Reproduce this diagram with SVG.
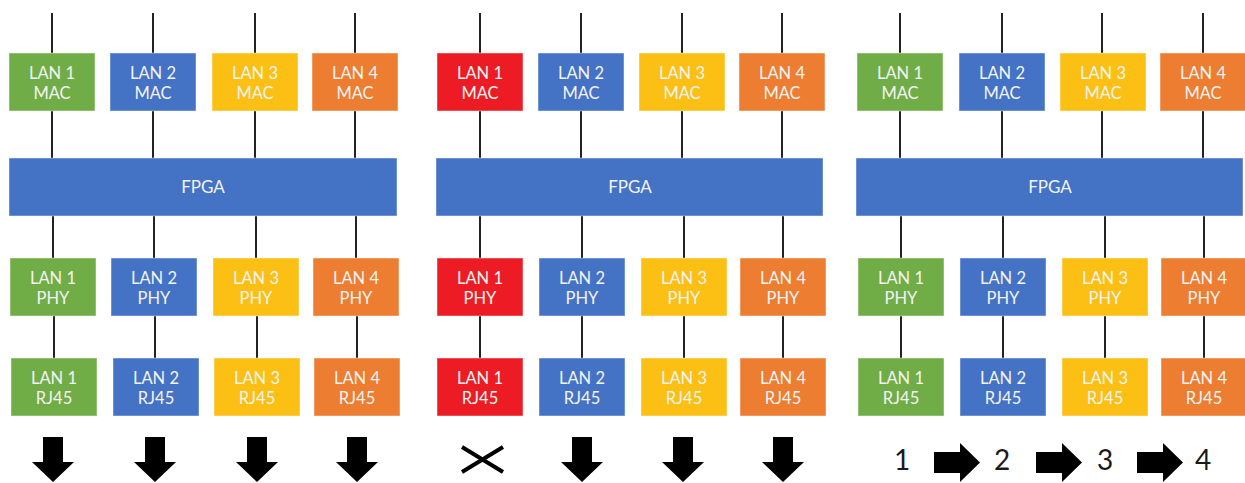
<svg xmlns="http://www.w3.org/2000/svg" xmlns:xlink="http://www.w3.org/1999/xlink" width="1245" height="483" viewBox="0 0 1245 483">
<style>
.box{stroke:#ffffff;stroke-opacity:0.45;stroke-width:1}
.g{fill:#70ad47}.b{fill:#4472c4}.y{fill:#fcbf14}.o{fill:#ed7d31}.r{fill:#ed1c24}
.t{font-family:Lato,"Open Sans","Liberation Sans",sans-serif;font-size:16.5px;fill:#f4f4f4;text-anchor:middle}
.f{font-family:Lato,"Open Sans","Liberation Sans",sans-serif;font-size:17px;fill:#f4f4f4;text-anchor:middle}
.n{font-family:Lato,"Open Sans","Liberation Sans",sans-serif;font-size:28px;fill:#1a1a1a;text-anchor:middle}
.ln{stroke:#222;stroke-width:2;fill:none}
.arr{fill:#000}
</style>
<defs>
<path id="down" d="M-10,437 H10 V462 H21 L0,482 L-21,462 H-10 Z"/>
<path id="right" d="M0,452 H26 V443 L46,462.5 L26,482 V473 H0 Z"/>
</defs>
<rect width="1245" height="483" fill="#ffffff"/>
<g id="connectors" class="ln">
<path d="M52,13V53 M52,111V158 M53,216V258 M54,316V358"/>
<path d="M153,13V53 M153,111V158 M154,216V258 M155,316V358"/>
<path d="M255,13V53 M255,111V158 M256,216V258 M257,316V358"/>
<path d="M355,13V53 M355,111V158 M356,216V258 M357,316V358"/>
<path d="M480,13V53 M480,111V158 M480,216V258 M480,316V358"/>
<path d="M581,13V53 M581,111V158 M582,216V258 M582,316V358"/>
<path d="M682,13V53 M682,111V158 M684,216V258 M684,316V358"/>
<path d="M782,13V53 M782,111V158 M783,216V258 M783,316V358"/>
<path d="M900,13V53 M900,111V158 M901,216V258 M901,316V358"/>
<path d="M1002,13V53 M1002,111V158 M1003,216V258 M1003,316V358"/>
<path d="M1102,13V53 M1102,111V158 M1105,216V258 M1105,316V358"/>
<path d="M1203,13V53 M1203,111V158 M1204,216V258 M1204,316V358"/>
</g>

<g id="g1-lan1-mac"><rect class="box g" x="9" y="53" width="86" height="58"/><text class="t" x="52" y="78.5">LAN 1</text><text class="t" x="52" y="99">MAC</text></g>
<g id="g1-lan2-mac"><rect class="box b" x="110" y="53" width="86" height="58"/><text class="t" x="153" y="78.5">LAN 2</text><text class="t" x="153" y="99">MAC</text></g>
<g id="g1-lan3-mac"><rect class="box y" x="212" y="53" width="86" height="58"/><text class="t" x="255" y="78.5">LAN 3</text><text class="t" x="255" y="99">MAC</text></g>
<g id="g1-lan4-mac"><rect class="box o" x="312" y="53" width="86" height="58"/><text class="t" x="355" y="78.5">LAN 4</text><text class="t" x="355" y="99">MAC</text></g>
<g id="g1-fpga"><rect class="box b" x="9" y="158" width="388" height="58"/><text class="f" x="203" y="193">FPGA</text></g>
<g id="g1-lan1-phy"><rect class="box g" x="10" y="258" width="86" height="58"/><text class="t" x="53" y="283.5">LAN 1</text><text class="t" x="53" y="304">PHY</text></g>
<g id="g1-lan2-phy"><rect class="box b" x="111" y="258" width="86" height="58"/><text class="t" x="154" y="283.5">LAN 2</text><text class="t" x="154" y="304">PHY</text></g>
<g id="g1-lan3-phy"><rect class="box y" x="213" y="258" width="86" height="58"/><text class="t" x="256" y="283.5">LAN 3</text><text class="t" x="256" y="304">PHY</text></g>
<g id="g1-lan4-phy"><rect class="box o" x="313" y="258" width="86" height="58"/><text class="t" x="356" y="283.5">LAN 4</text><text class="t" x="356" y="304">PHY</text></g>
<g id="g1-lan1-rj45"><rect class="box g" x="11" y="358" width="86" height="58"/><text class="t" x="54" y="383.5">LAN 1</text><text class="t" x="54" y="404">RJ45</text></g>
<g id="g1-lan2-rj45"><rect class="box b" x="113" y="358" width="86" height="58"/><text class="t" x="156" y="383.5">LAN 2</text><text class="t" x="156" y="404">RJ45</text></g>
<g id="g1-lan3-rj45"><rect class="box y" x="214" y="358" width="86" height="58"/><text class="t" x="257" y="383.5">LAN 3</text><text class="t" x="257" y="404">RJ45</text></g>
<g id="g1-lan4-rj45"><rect class="box o" x="314" y="358" width="86" height="58"/><text class="t" x="357" y="383.5">LAN 4</text><text class="t" x="357" y="404">RJ45</text></g>

<g id="g2-lan1-mac"><rect class="box r" x="437" y="53" width="86" height="58"/><text class="t" x="480" y="78.5">LAN 1</text><text class="t" x="480" y="99">MAC</text></g>
<g id="g2-lan2-mac"><rect class="box b" x="538" y="53" width="86" height="58"/><text class="t" x="581" y="78.5">LAN 2</text><text class="t" x="581" y="99">MAC</text></g>
<g id="g2-lan3-mac"><rect class="box y" x="639" y="53" width="86" height="58"/><text class="t" x="682" y="78.5">LAN 3</text><text class="t" x="682" y="99">MAC</text></g>
<g id="g2-lan4-mac"><rect class="box o" x="739" y="53" width="86" height="58"/><text class="t" x="782" y="78.5">LAN 4</text><text class="t" x="782" y="99">MAC</text></g>
<g id="g2-fpga"><rect class="box b" x="436" y="158" width="387" height="58"/><text class="f" x="630" y="193">FPGA</text></g>
<g id="g2-lan1-phy"><rect class="box r" x="437" y="258" width="86" height="58"/><text class="t" x="480" y="283.5">LAN 1</text><text class="t" x="480" y="304">PHY</text></g>
<g id="g2-lan2-phy"><rect class="box b" x="539" y="258" width="86" height="58"/><text class="t" x="582" y="283.5">LAN 2</text><text class="t" x="582" y="304">PHY</text></g>
<g id="g2-lan3-phy"><rect class="box y" x="641" y="258" width="86" height="58"/><text class="t" x="684" y="283.5">LAN 3</text><text class="t" x="684" y="304">PHY</text></g>
<g id="g2-lan4-phy"><rect class="box o" x="740" y="258" width="86" height="58"/><text class="t" x="783" y="283.5">LAN 4</text><text class="t" x="783" y="304">PHY</text></g>
<g id="g2-lan1-rj45"><rect class="box r" x="437" y="358" width="86" height="58"/><text class="t" x="480" y="383.5">LAN 1</text><text class="t" x="480" y="404">RJ45</text></g>
<g id="g2-lan2-rj45"><rect class="box b" x="539" y="358" width="86" height="58"/><text class="t" x="582" y="383.5">LAN 2</text><text class="t" x="582" y="404">RJ45</text></g>
<g id="g2-lan3-rj45"><rect class="box y" x="641" y="358" width="86" height="58"/><text class="t" x="684" y="383.5">LAN 3</text><text class="t" x="684" y="404">RJ45</text></g>
<g id="g2-lan4-rj45"><rect class="box o" x="740" y="358" width="86" height="58"/><text class="t" x="783" y="383.5">LAN 4</text><text class="t" x="783" y="404">RJ45</text></g>

<g id="g3-lan1-mac"><rect class="box g" x="857" y="53" width="86" height="58"/><text class="t" x="900" y="78.5">LAN 1</text><text class="t" x="900" y="99">MAC</text></g>
<g id="g3-lan2-mac"><rect class="box b" x="959" y="53" width="86" height="58"/><text class="t" x="1002" y="78.5">LAN 2</text><text class="t" x="1002" y="99">MAC</text></g>
<g id="g3-lan3-mac"><rect class="box y" x="1060" y="53" width="86" height="58"/><text class="t" x="1103" y="78.5">LAN 3</text><text class="t" x="1103" y="99">MAC</text></g>
<g id="g3-lan4-mac"><rect class="box o" x="1160" y="53" width="86" height="58"/><text class="t" x="1203" y="78.5">LAN 4</text><text class="t" x="1203" y="99">MAC</text></g>
<g id="g3-fpga"><rect class="box b" x="856" y="158" width="387" height="58"/><text class="f" x="1050" y="193">FPGA</text></g>
<g id="g3-lan1-phy"><rect class="box g" x="858" y="258" width="86" height="58"/><text class="t" x="901" y="283.5">LAN 1</text><text class="t" x="901" y="304">PHY</text></g>
<g id="g3-lan2-phy"><rect class="box b" x="960" y="258" width="86" height="58"/><text class="t" x="1003" y="283.5">LAN 2</text><text class="t" x="1003" y="304">PHY</text></g>
<g id="g3-lan3-phy"><rect class="box y" x="1062" y="258" width="86" height="58"/><text class="t" x="1105" y="283.5">LAN 3</text><text class="t" x="1105" y="304">PHY</text></g>
<g id="g3-lan4-phy"><rect class="box o" x="1161" y="258" width="86" height="58"/><text class="t" x="1204" y="283.5">LAN 4</text><text class="t" x="1204" y="304">PHY</text></g>
<g id="g3-lan1-rj45"><rect class="box g" x="858" y="358" width="86" height="58"/><text class="t" x="901" y="383.5">LAN 1</text><text class="t" x="901" y="404">RJ45</text></g>
<g id="g3-lan2-rj45"><rect class="box b" x="960" y="358" width="86" height="58"/><text class="t" x="1003" y="383.5">LAN 2</text><text class="t" x="1003" y="404">RJ45</text></g>
<g id="g3-lan3-rj45"><rect class="box y" x="1062" y="358" width="86" height="58"/><text class="t" x="1105" y="383.5">LAN 3</text><text class="t" x="1105" y="404">RJ45</text></g>
<g id="g3-lan4-rj45"><rect class="box o" x="1161" y="358" width="86" height="58"/><text class="t" x="1204" y="383.5">LAN 4</text><text class="t" x="1204" y="404">RJ45</text></g>

<g id="outputs">
<use href="#down" xlink:href="#down" class="arr" x="53"/>
<use href="#down" xlink:href="#down" class="arr" x="155"/>
<use href="#down" xlink:href="#down" class="arr" x="257"/>
<use href="#down" xlink:href="#down" class="arr" x="357"/>
<path d="M462,447 L503,472 M462,472 L503,447" stroke="#000" stroke-width="4" fill="none"/>
<use href="#down" xlink:href="#down" class="arr" x="582"/>
<use href="#down" xlink:href="#down" class="arr" x="683"/>
<use href="#down" xlink:href="#down" class="arr" x="783"/>
<text class="n" x="902" y="470">1</text>
<use href="#right" xlink:href="#right" class="arr" x="934"/>
<text class="n" x="1002" y="470">2</text>
<use href="#right" xlink:href="#right" class="arr" x="1036"/>
<text class="n" x="1105" y="470">3</text>
<use href="#right" xlink:href="#right" class="arr" x="1137"/>
<text class="n" x="1203" y="470">4</text>
</g>
</svg>
